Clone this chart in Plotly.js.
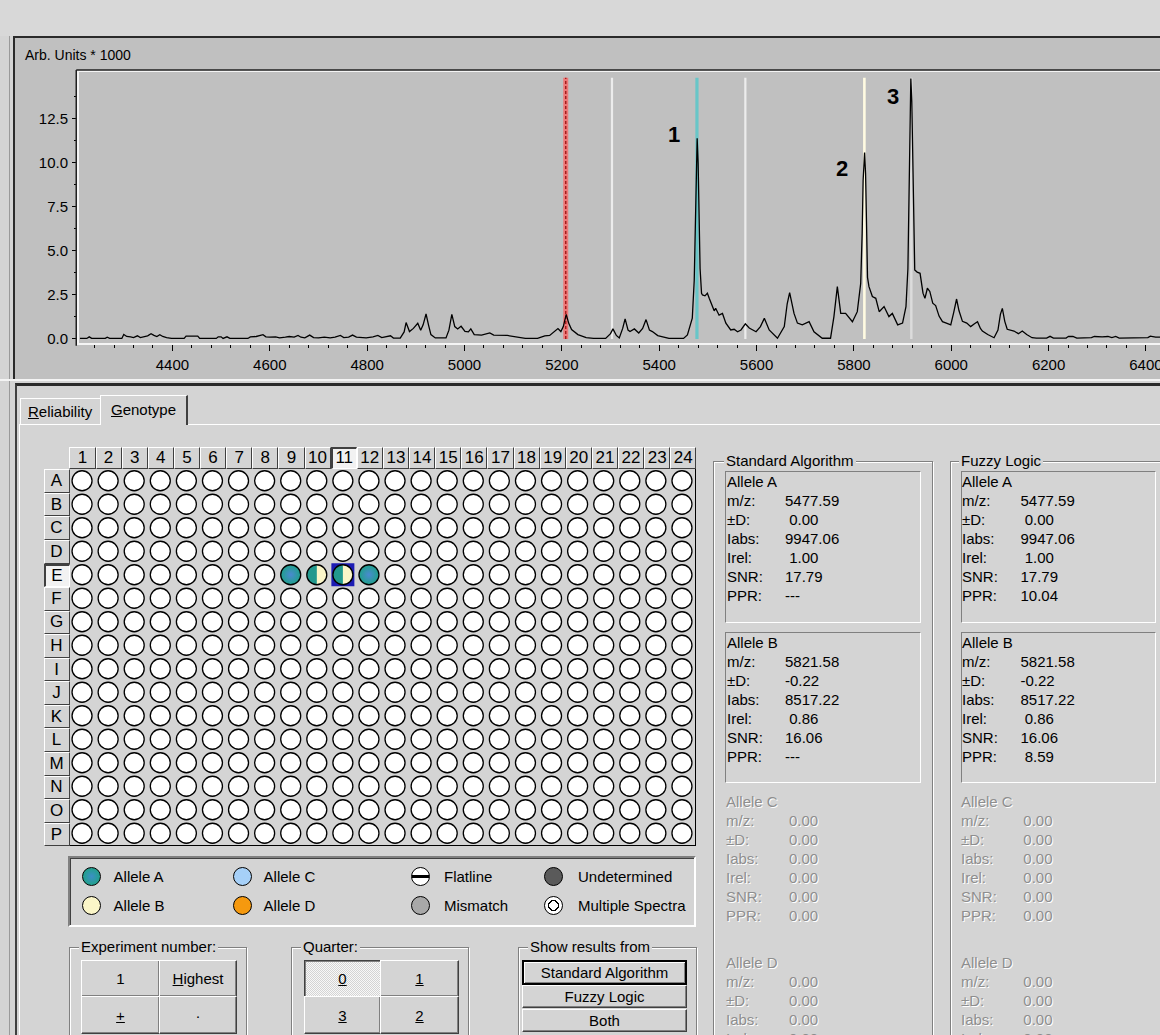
<!DOCTYPE html>
<html><head><meta charset="utf-8">
<script src="https://cdn.plot.ly/plotly-3.0.1.min.js"></script>
<style>
body{margin:0;width:1160px;height:1035px;overflow:hidden;background:#d4d4d4;position:relative;font-family:"Liberation Sans",Arial,sans-serif;font-size:15px;color:#000}
div{box-sizing:border-box}
.a{position:absolute}
.btn{position:absolute;background:#d4d4d4;border-top:1px solid #fff;border-left:1px solid #fff;border-right:1px solid #404040;border-bottom:1px solid #404040;box-shadow:inset -1px -1px 0 #808080;display:flex;align-items:center;justify-content:center;font-size:15px}
.sunk{position:absolute;border-top:1px solid #808080;border-left:1px solid #808080;border-right:1px solid #fff;border-bottom:1px solid #fff}
.grp{position:absolute;border:1px solid #808080;box-shadow:inset 1px 1px 0 #fff,1px 1px 0 #fff}
.glab{position:absolute;background:#d4d4d4;padding:0 2px;line-height:16px;white-space:nowrap}
.hdr{position:absolute;background:#d4d4d4;border-top:1px solid #fff;border-left:1px solid #fff;border-right:1px solid #404040;border-bottom:1px solid #404040;display:flex;align-items:center;justify-content:center;font-size:17px}
.hdr.sel{background:#f2f2f2;border-top:2px solid #404040;border-left:2px solid #404040;border-right:1px solid #fff;border-bottom:1px solid #fff}
.ln{position:absolute;line-height:19px;white-space:pre}
.dis{color:#8e8e8e;text-shadow:1px 1px 0 #fff}
.dot{position:absolute;width:19px;height:19px;border-radius:50%;border:1.3px solid #000}
</style></head><body>

<!-- spectrum panel -->
<div class="a" style="left:0;top:0;width:1160px;height:36px;background:#d8d8d8"></div>
<div class="a" style="left:9px;top:36px;width:1px;height:999px;background:#9a9a9a"></div>
<div class="a" style="left:13px;top:36px;width:1147px;height:343px;background:#c0c0c0;border-left:2px solid #2a2a2a;border-top:2px solid #2a2a2a"></div>
<div id="spec" class="a" style="left:15px;top:38px;width:1185px;height:338px"></div>
<div class="a" style="left:0;top:379px;width:1160px;height:2px;background:#f4f4f4"></div>
<div class="a" style="left:15px;top:383px;width:1145px;height:652px;border-top:3px solid #2a2a2a;border-left:2px solid #404040"></div>

<!-- tabs -->
<div class="a" style="left:20px;top:398px;width:80px;height:27px;border-top:1px solid #fff;border-left:1px solid #fff"></div>
<div class="ln" style="left:28px;top:402px"><u>R</u>eliability</div>
<div class="a" style="left:100px;top:395px;width:88px;height:30px;border-top:1px solid #fff;border-left:1px solid #fff;border-right:2px solid #404040;background:#d4d4d4"></div>
<div class="ln" style="left:111px;top:400px"><u>G</u>enotype</div>
<div class="a" style="left:19px;top:424px;width:81px;height:1px;background:#fff"></div>
<div class="a" style="left:188px;top:424px;width:972px;height:1px;background:#fff"></div>
<div class="a" style="left:19px;top:424px;width:1px;height:611px;background:#fff"></div>

<div id="plate" class="a" style="left:69.4px;top:469.3px;width:627px;height:377px;border-right:1px solid #000;border-bottom:1px solid #000"></div>

<!-- legend -->
<div class="a" style="left:68px;top:856px;width:628px;height:71px;border-top:2px solid #808080;border-left:2px solid #808080;border-right:2px solid #fff;border-bottom:2px solid #fff;box-shadow:inset 1px 1px 0 #404040"></div>
<div id="legend"></div>

<!-- bottom groups -->
<div class="grp" style="left:69px;top:947px;width:178px;height:120px"></div>
<div class="glab" style="left:79px;top:939px">Experiment number:</div>
<div class="btn" style="left:81px;top:960px;width:79px;height:37px">1</div>
<div class="btn" style="left:159px;top:960px;width:78px;height:37px"><u>H</u>ighest</div>
<div class="btn" style="left:81px;top:996px;width:79px;height:38px"><u>+</u></div>
<div class="btn" style="left:159px;top:996px;width:78px;height:38px">&middot;</div>

<div class="grp" style="left:291px;top:947px;width:178px;height:120px"></div>
<div class="glab" style="left:301px;top:939px">Quarter:</div>
<div class="btn" style="left:304px;top:960px;width:77px;height:37px;border-top:1px solid #404040;border-left:1px solid #404040;border-right:1px solid #fff;border-bottom:1px solid #fff;box-shadow:inset 1px 1px 0 #808080;background:repeating-conic-gradient(#f8f8f8 0 25%,#d4d4d4 0 50%) 0 0/2px 2px"><u>0</u></div>
<div class="btn" style="left:380px;top:960px;width:79px;height:37px"><u>1</u></div>
<div class="btn" style="left:304px;top:996px;width:77px;height:38px"><u>3</u></div>
<div class="btn" style="left:380px;top:996px;width:79px;height:38px"><u>2</u></div>

<div class="grp" style="left:518px;top:947px;width:179px;height:120px"></div>
<div class="glab" style="left:528px;top:939px">Show results from</div>
<div class="btn" style="left:522px;top:960px;width:165px;height:25px;border:2px solid #000;box-shadow:inset 1px 1px 0 #fff,inset -1px -1px 0 #808080">Standard Algorithm</div>
<div class="btn" style="left:522px;top:985px;width:165px;height:23px">Fuzzy Logic</div>
<div class="btn" style="left:522px;top:1009px;width:165px;height:23px">Both</div>

<!-- result panels -->
<div class="grp" style="left:713px;top:461px;width:220px;height:620px"></div>
<div class="glab" style="left:724px;top:453px">Standard Algorithm</div>
<div class="grp" style="left:950px;top:461px;width:230px;height:620px"></div>
<div class="glab" style="left:959px;top:453px">Fuzzy Logic</div>
<div class="sunk" style="left:725px;top:471px;width:196px;height:152px"></div>
<div class="sunk" style="left:725px;top:632px;width:196px;height:151px"></div>
<div class="sunk" style="left:961px;top:471px;width:195px;height:152px"></div>
<div class="sunk" style="left:961px;top:632px;width:195px;height:151px"></div>
<div id="panels"></div>

<script>
// ---------------- spectrum data (m/z, intensity in Arb. Units * 1000) ----------------
const mzValues = [
4210,4224,4229,4234,4262,4266,4271,4296,4300,4306,4314,4320,4328,4334,4349,4356,4362,4368,4374,4380,
4388,4398,4424,4428,4452,4456,4490,4494,4500,4504,4512,4518,4555,4560,4572,4586,4592,4600,4612,4620,
4632,4640,4650,4658,4664,4672,4682,4690,4700,4712,4724,4734,4745,4752,4762,4770,4778,4790,4798,4812,
4822,4830,4840,4848,4854,4868,4876,4880,4887,4895,4904,4910,4915,4921,4926,4931,4940,4962,4968,4974,
4980,4986,4993,5001,5008,5013,5020,5035,5052,5060,5088,5110,5125,5150,5165,5175,5185,5192,5198,5203,
5209,5214,5220,5233,5250,5265,5290,5300,5305,5312,5318,5325,5330,5336,5340,5349,5358,5366,5373,5380,
5386,5397,5420,5450,5458,5468,5472,5474,5476,5478,5480,5482,5484,5487,5489,5494,5499,5503,5507,5513,
5516,5523,5530,5537,5547,5554,5561,5568,5577,5585,5599,5608,5616,5626,5643,5657,5663,5668,5677,5684,
5694,5708,5718,5735,5752,5759,5766,5773,5783,5797,5807,5814,5817,5819,5822,5824,5826,5828,5831,5838,
5845,5852,5862,5872,5879,5890,5900,5907,5911,5913,5915,5917,5919,5921,5923,5925,5930,5936,5942,5946,
5951,5956,5962,5968,5975,5982,5990,5999,6005,6011,6016,6023,6032,6040,6047,6054,6060,6064,6075,6088,
6096,6101,6105,6110,6115,6122,6129,6138,6146,6155,6166,6175,6196,6203,6210,6236,6241,6250,6258,6288,
6294,6310,6322,6330,6338,6345,6370,6385,6404,6409,6420,6440,6455,6470];
const intensity = [
0.03,0.03,0.12,0.03,0.03,0.10,0.03,0.03,0.25,0.14,0.12,0.08,0.18,0.08,0.18,0.30,0.20,0.14,0.24,0.14,
0.08,0.03,0.03,0.16,0.16,0.03,0.03,0.12,0.12,0.03,0.12,0.03,0.03,0.12,0.14,0.24,0.12,0.10,0.12,0.06,
0.10,0.14,0.10,0.20,0.10,0.06,0.22,0.08,0.06,0.10,0.06,0.10,0.20,0.08,0.10,0.22,0.10,0.08,0.06,0.12,
0.20,0.08,0.12,0.18,0.05,0.05,0.40,0.93,0.42,0.60,0.89,0.50,0.80,1.42,0.80,0.25,0.06,0.06,0.50,1.40,
0.70,0.57,0.72,0.43,0.40,0.57,0.25,0.22,0.34,0.22,0.20,0.10,0.03,0.03,0.18,0.20,0.40,0.59,0.42,0.70,
1.40,0.90,0.53,0.25,0.08,0.03,0.03,0.30,0.57,0.20,0.06,0.60,1.14,0.50,0.42,0.57,0.34,0.60,1.10,0.50,
0.42,0.19,0.03,0.03,0.23,1.18,3.35,6.50,9.00,11.40,10.00,6.80,4.00,2.60,2.50,2.45,2.60,2.30,2.00,1.60,
1.74,1.35,1.45,0.90,0.51,0.55,0.41,0.51,0.86,0.62,0.41,0.70,1.17,0.51,0.04,0.70,2.00,2.63,1.45,0.90,
0.80,0.98,0.41,0.04,0.04,1.27,2.97,1.45,1.45,0.98,1.55,3.16,6.00,9.00,10.60,9.40,6.50,3.50,2.97,2.41,
2.31,1.55,1.84,1.27,1.45,0.80,0.90,1.84,4.00,8.00,12.00,14.80,13.50,9.50,6.00,3.92,3.80,3.73,2.60,2.31,
2.88,2.70,2.03,1.90,1.30,0.98,0.90,0.80,1.50,2.27,1.60,1.00,0.90,0.70,0.85,0.98,0.60,0.45,0.25,0.07,
0.50,1.40,1.74,1.00,0.55,0.50,0.45,0.30,0.45,0.25,0.07,0.05,0.05,0.15,0.05,0.05,0.15,0.14,0.05,0.08,
0.14,0.12,0.14,0.08,0.14,0.05,0.05,0.05,0.08,0.16,0.10,0.10,0.12,0.08];

// marker (mass window) lines
const markerLineMz = [5208, 5303, 5477.59, 5577, 5821.58, 5918];
const markerLineTop = 14.85;
const peakNames = ['1', '2', '3'];
const peakLabelMz = [5431, 5776, 5881];
const peakLabelY = [11.6, 9.7, 13.8];
const xTickStart = 4400, xTickStep = 200;
const yTicks = [0, 2.5, 5, 7.5, 10, 12.5];

// ---------------- plate data ----------------
const plateRows = ['A','B','C','D','E','F','G','H','I','J','K','L','M','N','O','P'];
const plateCols = [1,2,3,4,5,6,7,8,9,10,11,12,13,14,15,16,17,18,19,20,21,22,23,24];
const wellCalls = [
  {row:'E', col:9,  call:'A'},
  {row:'E', col:10, call:'AB'},
  {row:'E', col:11, call:'AB'},
  {row:'E', col:12, call:'A'}
];
const selectedWell = {row:'E', col:11};

// ---------------- legend and result panel texts ----------------
const legendNames = ['Allele A','Allele B','Allele C','Allele D','Flatline','Mismatch','Undetermined','Multiple Spectra'];
const fieldLabels = ['m/z:','\u00b1D:','Iabs:','Irel:','SNR:','PPR:'];
const stdAlleleA = ['5477.59',' 0.00','9947.06',' 1.00','17.79','---'];
const stdAlleleB = ['5821.58','-0.22','8517.22',' 0.86','16.06','---'];
const fuzAlleleA = ['5477.59',' 0.00','9947.06',' 1.00','17.79','10.04'];
const fuzAlleleB = ['5821.58','-0.22','8517.22',' 0.86','16.06',' 8.59'];
const emptyAllele = ['0.00','0.00','0.00','0.00','0.00','0.00'];

// ================= spectrum plot =================
const lineStyles = [
  [{color:'rgba(242,112,112,0.9)', width:5}, {color:'#a01818', width:1.4, dash:'3px,2px'}],
  [{color:'#ececec', width:2.2}],
  [{color:'#68c6c8', width:3.2}],
  [{color:'#ececec', width:2.2}],
  [{color:'#fffbe2', width:2.6}],
  [{color:'#dcdcdc', width:2.4}]
];
const specTraces = [];
markerLineMz.forEach((m, i) => {
  lineStyles[i].forEach(st => specTraces.push({
    x:[m, m], y:[0, markerLineTop], mode:'lines', line:st, hoverinfo:'skip', showlegend:false
  }));
});
specTraces.push({x:mzValues, y:intensity, mode:'lines', line:{color:'#000', width:1.3}, showlegend:false});

const ui = {family:'"Liberation Sans", Arial, sans-serif', size:15, color:'#000'};
const specLayout = {
  width:1185, height:338,
  margin:{l:64, r:20, t:34, b:33},
  paper_bgcolor:'#c0c0c0', plot_bgcolor:'#c0c0c0',
  font:ui, showlegend:false,
  xaxis:{range:[4208, 6470], tickmode:'linear', tick0:xTickStart, dtick:xTickStep,
    ticks:'outside', ticklen:6, tickwidth:1, tickcolor:'#000', ticklabelstandoff:1,
    minor:{tickmode:'linear', tick0:4200, dtick:40, ticks:'outside', ticklen:3, tickcolor:'#000', showgrid:false},
    showgrid:false, zeroline:false, showline:true, linecolor:'#f4f4f4', linewidth:2, mirror:true,
    tickfont:ui, fixedrange:true},
  yaxis:{range:[-0.23, 15.17], tickmode:'array', tickvals:yTicks, ticktext:yTicks.map(v=>v.toFixed(1)),
    ticks:'outside', ticklen:5, tickwidth:1, tickcolor:'#000', ticklabelstandoff:1,
    minor:{tickmode:'array', tickvals:yTicks.map(v=>v+1.25), ticks:'outside', ticklen:3, tickcolor:'#000', showgrid:false},
    showgrid:false, zeroline:false, showline:true, linecolor:'#f4f4f4', linewidth:2, mirror:true,
    tickfont:ui, fixedrange:true},
  shapes:[
    {type:'line', xref:'paper', yref:'paper', x0:-0.0025, x1:1.01, y0:1.0075, y1:1.0075, line:{color:'#202020', width:1.5}},
    {type:'line', xref:'paper', yref:'paper', x0:-0.0025, x1:-0.0025, y0:-0.01, y1:1.0075, line:{color:'#202020', width:1.5}}
  ],
  annotations:[
    {text:'Arb. Units * 1000', xref:'paper', yref:'paper', x:-0.0509, y:1.0627, xanchor:'left', yanchor:'middle',
     showarrow:false, font:{family:ui.family, size:14, color:'#000'}}
  ].concat(peakNames.map((t,i)=>({text:'<b>'+t+'</b>', x:peakLabelMz[i], y:peakLabelY[i], xref:'x', yref:'y',
     showarrow:false, font:{family:'"Liberation Sans", Arial, sans-serif', size:22, color:'#000'}})))
};
Plotly.newPlot('spec', specTraces, specLayout, {staticPlot:true, displayModeBar:false});

// ================= plate headers (HTML buttons) =================
const colW = 627/24, rowH = 377/16;
plateCols.forEach((c,i)=>{
  const d=document.createElement('div');
  d.className='hdr'+(c===selectedWell.col?' sel':'');
  d.style.left=(69.4+i*colW)+'px'; d.style.top='446.7px';
  d.style.width=colW+'px'; d.style.height='22.6px';
  d.textContent=c; document.body.appendChild(d);
});
plateRows.forEach((r,j)=>{
  const d=document.createElement('div');
  d.className='hdr'+(r===selectedWell.row?' sel':'');
  d.style.left='43.5px'; d.style.top=(469.3+j*rowH)+'px';
  d.style.width='26px'; d.style.height=rowH+'px';
  d.textContent=r; document.body.appendChild(d);
});

// ================= plate wells (Plotly) =================
const callKey = {}; wellCalls.forEach(w=>callKey[w.row+w.col]=w.call);
const emptyX=[], emptyY=[];
plateRows.forEach((r,j)=>plateCols.forEach(c=>{ if(!callKey[r+c]){emptyX.push(c); emptyY.push(j);} }));
const fullA = wellCalls.filter(w=>w.call==='A');
const halfAB = wellCalls.filter(w=>w.call==='AB');
const rIdx = r=>plateRows.indexOf(r);
const radX = 10/colW, radY = 10/rowH;
const plateTraces = [
  {x:[selectedWell.col], y:[rIdx(selectedWell.row)], mode:'markers',
   marker:{symbol:'square', size:23, color:'#1c1cb4', line:{width:0}}},
  {x:emptyX, y:emptyY, mode:'markers', marker:{symbol:'circle', size:20, color:'#fff', line:{color:'#000', width:1.3}}},
  {x:fullA.map(w=>w.col), y:fullA.map(w=>rIdx(w.row)), mode:'markers',
   marker:{symbol:'circle', size:20, color:'#1ea08a', gradient:{type:'radial', color:'#4a8ad0'}, line:{color:'#000', width:1.3}}},
  {x:halfAB.map(w=>w.col), y:halfAB.map(w=>rIdx(w.row)), mode:'markers',
   marker:{symbol:'circle', size:20, color:'#fbf6c8', line:{width:0}}}
];
halfAB.forEach(w=>{
  const hx=[], hy=[];
  for(let a=90; a<=270; a+=6){ const t=a*Math.PI/180; hx.push(w.col+radX*Math.cos(t)); hy.push(rIdx(w.row)-radY*Math.sin(t)); }
  plateTraces.push({x:hx, y:hy, mode:'lines', fill:'toself', fillcolor:'#22998e', line:{width:0}});
});
plateTraces.push({x:halfAB.map(w=>w.col), y:halfAB.map(w=>rIdx(w.row)), mode:'markers',
   marker:{symbol:'circle', size:20, color:'rgba(0,0,0,0)', line:{color:'#000', width:1.3}}});

Plotly.newPlot('plate', plateTraces, {
  width:626, height:376, margin:{l:0,r:0,t:0,b:0},
  paper_bgcolor:'#d4d4d4', plot_bgcolor:'#d4d4d4', showlegend:false,
  xaxis:{range:[0.5, 24.5], visible:false, fixedrange:true},
  yaxis:{range:[15.5, -0.5], visible:false, fixedrange:true}
}, {staticPlot:true, displayModeBar:false});

// ================= legend =================
const legendDotStyle = [
  'background:radial-gradient(circle,#3c8fc6 0%,#22a08c 70%)',
  'background:#fbf6c8',
  'background:#a6d0f8',
  'background:#f5990f',
  'background:linear-gradient(#fff 0 40%,#000 40% 60%,#fff 60%)',
  'background:#a8a8a8',
  'background:#5a5a5a',
  'background:radial-gradient(circle,#fff 0 35%,#000 35% 45%,#fff 45%)'
];
const legX = [91.7, 91.7, 242, 242, 420.7, 420.7, 553.7, 553.7];
const legTextX = [113.6, 113.6, 263.6, 263.6, 444, 444, 578, 578];
const legY = [876.7, 905.7];
let lh='';
legendNames.forEach((n,i)=>{
  const cy = legY[i%2];
  lh += '<div class="dot" style="left:'+(legX[i]-9.5)+'px;top:'+(cy-9.5)+'px;'+legendDotStyle[i]+'"></div>';
  lh += '<div class="ln" style="left:'+legTextX[i]+'px;top:'+(cy-9.5)+'px">'+n+'</div>';
});
document.getElementById('legend').innerHTML = lh;

// ================= result panels =================
let ph='';
function block(title, values, lx, vx, top, disabled){
  const cls = 'ln'+(disabled?' dis':'');
  ph += '<div class="'+cls+'" style="left:'+lx+'px;top:'+top+'px">'+title+'</div>';
  fieldLabels.forEach((f,k)=>{
    ph += '<div class="'+cls+'" style="left:'+lx+'px;top:'+(top+19*(k+1))+'px">'+f+'</div>';
    ph += '<div class="'+cls+'" style="left:'+vx+'px;top:'+(top+19*(k+1))+'px">'+values[k]+'</div>';
  });
}
block('Allele A', stdAlleleA, 727, 785, 472, false);
block('Allele B', stdAlleleB, 727, 785, 633, false);
block('Allele C', emptyAllele, 726, 789, 792, true);
block('Allele D', emptyAllele, 726, 789, 952.5, true);
block('Allele A', fuzAlleleA, 962, 1020.5, 472, false);
block('Allele B', fuzAlleleB, 962, 1020.5, 633, false);
block('Allele C', emptyAllele, 961, 1023.3, 792, true);
block('Allele D', emptyAllele, 961, 1023.3, 952.5, true);
document.getElementById('panels').innerHTML = ph;
</script>
</body></html>
